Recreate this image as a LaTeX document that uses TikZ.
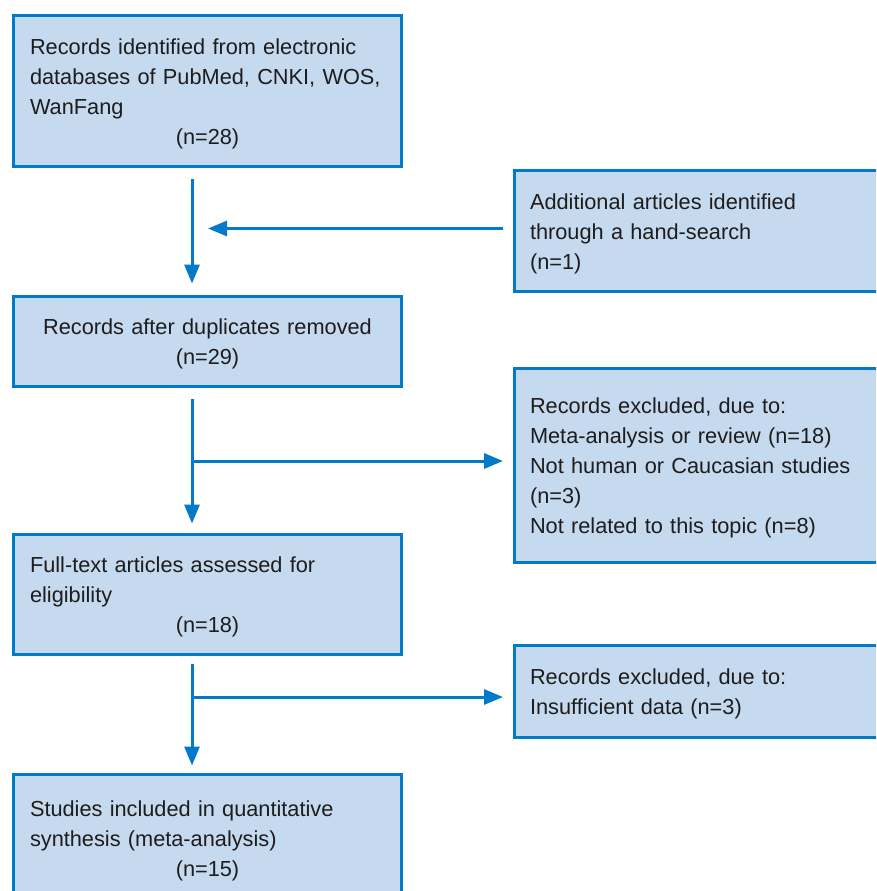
\documentclass[tikz,border=0pt]{standalone}
\usepackage{fontspec}
\setmainfont{Liberation Sans}
\usetikzlibrary{arrows.meta}

\definecolor{flowblue}{RGB}{0,122,201}
\definecolor{flowfill}{RGB}{197,218,239}
\definecolor{flowtext}{RGB}{30,28,28}

\tikzset{
    flowbox/.style={draw=flowblue, fill=flowfill, line width=3pt, inner sep=0pt,
        text=flowtext, font=\fontsize{21.75}{30}\selectfont,
        execute at begin node={\leavevmode\rule{0pt}{21pt}}},
    leftbox/.style={flowbox, minimum width=388pt, text width=355pt, align=left},
    rightbox/.style={flowbox, minimum width=380pt, text width=349pt, align=left},
    flowarrow/.style={draw=flowblue, line width=3pt, -{Triangle[length=19pt,width=15pt]}}
}

\begin{document}
\begin{tikzpicture}[x=1pt, y=-1pt]
    \useasboundingbox (0,0) rectangle (876,891);
    \clip (0,0) rectangle (876,891);
    \node[leftbox, minimum height=151pt] (records) at (207.5,91) {\makebox[\linewidth][s]{Records identified from electronic}\\ \makebox[\linewidth][s]{databases of PubMed, CNKI, WOS,}\\ WanFang\\ \makebox[\linewidth]{(n=28)}};
    \node[leftbox, minimum height=90pt, align=center] (dup) at (207.5,341.5) {Records after duplicates removed\\ (n=29)};
    \node[leftbox, minimum height=120pt] (full) at (207.5,594.5) {Full-text articles assessed for\\ eligibility\\ \makebox[\linewidth]{(n=18)}};
    \node[leftbox, minimum height=127.5pt] (incl) at (207.5,838.25) {Studies included in quantitative\\ synthesis (meta-analysis)\\ \makebox[\linewidth]{(n=15)}};
    \node[rightbox, minimum height=121pt] (hand) at (704.5,231) {Additional articles identified\\ through a hand-search\\ (n=1)};
    \node[rightbox, minimum height=194pt] (excl) at (704.5,465.75) {Records excluded, due to:\\ Meta-analysis or review (n=18)\\ Not human or Caucasian studies\\ (n=3)\\ Not related to this topic (n=8)};
    \node[rightbox, minimum height=92pt] (insuf) at (704.5,691.3) {Records excluded, due to:\\ Insufficient data (n=3)};
    \coordinate (axis) at (192,0);
    \coordinate (merge) at (192,228.5);
    \coordinate (split1) at (192,461);
    \coordinate (split2) at (192,697);
    \draw[flowarrow, shorten <=10.5pt, shorten >=11.5pt] (records.south -| axis) -- (dup.north -| axis);
    \draw[flowarrow, shorten <=10.5pt, shorten >=9.5pt] (dup.south -| axis) -- (full.north -| axis);
    \draw[flowarrow, shorten <=7.5pt, shorten >=7.5pt] (full.south -| axis) -- (incl.north -| axis);
    \draw[flowarrow, shorten <=10pt, shorten >=16pt] (hand.west |- merge) -- (merge);
    \draw[flowarrow, shorten >=10pt] (split1) -- (split1 -| excl.west);
    \draw[flowarrow, shorten >=10pt] (split2) -- (split2 -| insuf.west);
\end{tikzpicture}
\end{document}
